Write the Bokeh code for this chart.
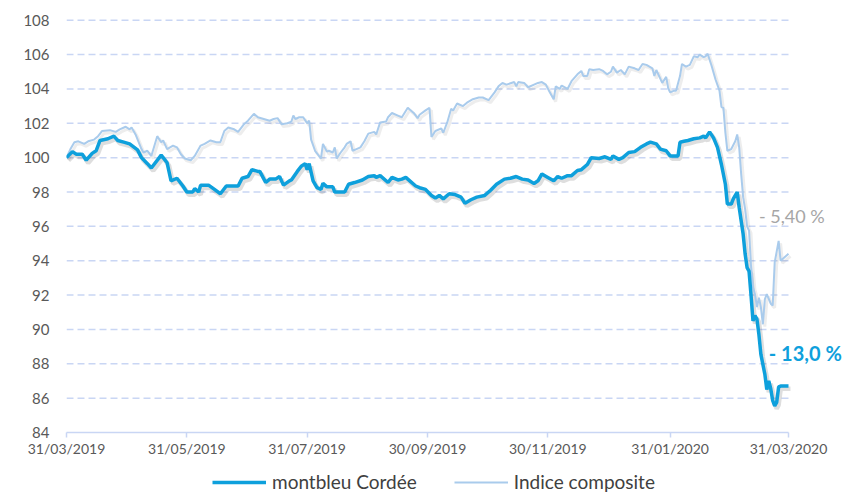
import pandas as pd
from bokeh.plotting import figure
from bokeh.layouts import column
from bokeh.models import (ColumnDataSource, Range1d, FixedTicker, DatetimeTickFormatter,
                          Legend, LegendItem, Label)
from bokeh.transform import dodge
from bokeh.embed import file_html
from bokeh.resources import INLINE

# ---------------- data ----------------
START = "2019-03-31"          # base date (value 100)
series_names = ["montbleu Cordée", "Indice composite"]

# day offsets from 31/03/2019 and base-100 values
fund_days = [0, 3, 5, 8, 10, 13, 15, 17, 21, 24, 26, 29, 32, 36, 38, 41, 43, 48, 51, 53, 56, 59, 61, 64,
             65, 67, 68, 72, 75, 78, 81, 87, 89, 92, 94, 97, 98, 101, 103, 106, 108, 110, 113, 114, 117,
             119, 121, 122, 123, 125, 127, 129, 130, 132, 135, 136, 141, 143, 146, 150, 153, 156, 157,
             159, 163, 165, 168, 170, 172, 174, 177, 179, 182, 185, 187, 189, 191, 194, 197, 200, 202,
             205, 208, 212, 215, 218, 222, 225, 228, 231, 234, 237, 239, 241, 244, 247, 249, 251, 254,
             256, 259, 261, 264, 266, 270, 273, 276, 277, 280, 282, 285, 288, 291, 294, 296, 299, 301,
             304, 306, 310, 311, 313, 315, 318, 321, 323, 324, 326, 328, 330, 332, 334, 335, 337, 338,
             340, 341, 343, 344, 345, 346, 347, 348, 349, 350, 351, 352, 354, 355, 356, 357, 358, 359,
             360, 361, 362, 366]
fund_values = [100.0, 100.35, 100.2, 100.2, 99.85, 100.25, 100.4, 101.0, 101.1, 101.25, 101.0, 100.9,
               100.8, 100.45, 100.0, 99.65, 99.4, 100.15, 99.7, 98.65, 98.8, 98.35, 98.0, 98.0,
               98.2, 98.0, 98.4, 98.4, 98.15, 97.9, 98.35, 98.35, 98.8, 98.9, 99.3, 99.2, 99.2, 98.55,
               98.75, 98.75, 98.9, 98.4, 98.65, 98.7, 99.2,
               99.5, 99.65, 99.3, 99.65, 98.65, 98.25, 98.15, 98.5, 98.3, 98.3, 98.0, 98.0, 98.45,
               98.55, 98.7, 98.9, 98.95, 98.85,
               98.95, 98.55, 98.85, 98.7, 98.75, 98.85, 98.65, 98.35, 98.25, 98.15, 97.8, 97.65, 97.8,
               97.6, 97.9, 97.85, 97.7, 97.35,
               97.55, 97.7, 97.8, 98.1, 98.45, 98.75, 98.8, 98.9, 98.75, 98.7, 98.5, 98.65, 99.05,
               98.85, 98.65, 98.9, 98.8, 98.95,
               98.95, 99.25, 99.3, 99.6, 100.0, 99.95, 100.05, 99.9, 100.1, 99.9, 100.0, 100.3, 100.35,
               100.6, 100.8, 100.9, 100.8, 100.5,
               100.4, 100.1, 100.1, 100.9, 100.95, 101.0, 101.1, 101.15, 101.25, 101.15, 101.5, 101.15,
               100.6, 99.6, 98.45, 97.3, 97.3, 97.6,
               98.0, 97.1, 95.55, 94.4, 93.6, 93.4, 92.0, 90.5, 90.8, 90.6, 89.7, 88.55, 87.4, 86.5,
               87.0, 86.55, 85.85, 85.55,
               85.75, 86.65, 86.7, 86.7]

index_days = [0, 2, 4, 6, 9, 11, 14, 16, 18, 22, 25, 27, 30, 32, 33, 35, 38, 39, 41, 43, 46, 48, 49, 51,
              54, 56, 58, 60, 63, 65, 66, 68, 70, 73, 76, 78, 80, 82, 85, 87, 90, 92, 95, 97, 100, 103,
              105, 107, 109, 112, 114, 115, 116, 118, 120, 122, 123, 124, 126, 129, 130, 132, 133, 135,
              136, 137, 139, 141, 142, 144, 145, 147, 149, 151, 153, 156, 157, 159, 162, 163, 165, 168,
              170, 173, 176, 178, 179, 182, 184, 185, 187, 190, 191, 193, 195, 196, 198, 201, 203, 206,
              209, 211, 214, 217, 219, 221, 223, 227, 228, 229, 232, 234, 237, 239, 241, 243, 245, 247,
              248, 250, 251, 254, 256, 259, 261, 262, 264, 265, 267, 270, 272, 274, 276, 277, 279, 281,
              283, 285, 288, 290, 292, 294, 297, 298, 299, 301, 302, 304, 305, 306, 308, 309, 311, 312,
              314, 316, 318, 320, 321, 323, 324, 325, 327, 329, 331, 332, 333, 334, 335, 337, 339, 340,
              341, 342, 343, 344, 345, 346, 347, 348, 349, 350, 351, 352, 353, 354, 355, 357, 358, 359,
              361, 362, 364, 366]
index_values = [100.0, 100.5, 100.9, 100.95, 100.8, 100.95, 101.05, 101.25, 101.55, 101.6, 101.5, 101.65,
                101.8, 101.65, 101.75, 101.35, 100.5, 100.3, 100.4, 100.1, 101.25, 100.9, 101.0, 100.5,
                100.7, 100.6, 100.2, 99.95, 99.85, 100.1, 100.3, 100.7, 100.8, 101.0, 100.9, 100.9,
                101.55, 101.75, 101.65, 101.5, 101.95, 102.15, 102.55, 102.35, 102.25, 102.15,
                102.25, 102.3, 101.95, 102.0, 102.1, 102.45, 102.25, 102.35, 102.35, 102.0, 102.15,
                101.05, 100.4, 99.95, 100.8, 100.35, 100.4, 100.3,
                100.6, 99.95, 100.3, 100.6, 100.8, 100.95, 100.4, 100.5, 100.6, 100.95, 101.4, 101.5,
                101.35, 102.05, 102.1, 102.35, 102.6, 102.45,
                102.35, 102.9, 102.6, 102.3, 102.5, 102.75, 102.9, 101.2, 101.55, 101.7, 101.45, 102.05,
                102.85, 102.75, 103.15, 103.0, 103.2, 103.4,
                103.5, 103.5, 103.35, 103.8, 104.15, 104.35, 104.25, 104.4, 104.15, 104.4, 104.35,
                104.1, 104.25, 104.35, 104.4, 104.25, 103.8, 103.4,
                104.15, 104.0, 104.2, 104.0, 104.45, 104.85, 105.05, 104.75, 104.75, 105.15, 105.1,
                105.15, 105.05, 104.85, 105.0, 105.3, 104.95, 105.1,
                104.85, 105.3, 105.2, 105.1, 105.45, 105.4, 105.2, 104.75, 105.1, 104.6, 104.35, 104.7,
                104.05, 103.8, 103.9, 103.9, 104.75, 105.45,
                105.3, 105.4, 105.9, 105.85, 106.0, 105.85, 105.9, 106.05, 105.35, 104.55, 103.9,
                102.95, 102.9, 101.45, 100.4, 100.5, 100.95, 101.35,
                100.6, 99.05, 97.7, 97.0, 96.0, 95.75, 93.7, 92.45, 92.05, 91.3, 91.85, 91.3, 90.3,
                91.75, 92.05, 91.5, 91.4, 93.9,
                95.15, 94.0, 94.2, 94.4]

tick_labels = ["31/03/2019", "31/05/2019", "31/07/2019", "30/09/2019",
               "30/11/2019", "31/01/2020", "31/03/2020"]
y_ticks = [84, 86, 88, 90, 92, 94, 96, 98, 100, 102, 104, 106, 108]
perf_fund = "- 13,0 %"
perf_index = "- 5,40 %"

# ---------------- build ----------------
base = pd.Timestamp(START)
fund_src = ColumnDataSource(dict(date=base + pd.to_timedelta(fund_days, unit="D"), v=fund_values))
index_src = ColumnDataSource(dict(date=base + pd.to_timedelta(index_days, unit="D"), v=index_values))
tick_dates = [pd.Timestamp(pd.to_datetime(t, dayfirst=True)) for t in tick_labels]
x_start, x_end = tick_dates[0], tick_dates[-1]

BLUE = "#0ea0dc"
LIGHT = "#a9cbec"
GRID = "#c9d6f4"

W, H_MAIN, H_LEG = 843, 466, 28
LEFT = 66
PLOT_W = 722                      # pixel width of the 31/03/2019 -> 31/03/2020 span
span_days = (x_end - x_start).days
# frame extends to the right edge so the end-of-period labels have room
view_end = x_start + pd.Timedelta(days=span_days * (W - LEFT) / PLOT_W)

p = figure(width=W, height=H_MAIN, x_axis_type="datetime", output_backend="svg",
           toolbar_location=None,
           x_range=Range1d(x_start, view_end),
           y_range=Range1d(y_ticks[0], y_ticks[-1] + 0.1),
           min_border_left=LEFT, min_border_right=0, min_border_top=18, min_border_bottom=34)
p.outline_line_color = None
p.background_fill_color = "white"
p.border_fill_color = "white"

# dashed horizontal gridlines, limited to the dated period
grid_y = y_ticks[1:]
grid_src = ColumnDataSource(dict(y=grid_y, x0=[x_start] * len(grid_y), x1=[x_end] * len(grid_y)))
p.segment("x0", "y", "x1", "y", source=grid_src, line_color=GRID, line_width=1.5, line_dash="7 4")

DAY_MS = 86400000
# soft drop shadows
p.line(dodge("date", 1.0 * DAY_MS, range=p.x_range), dodge("v", -0.14, range=p.y_range),
       source=index_src, line_color="#000000", line_alpha=0.07, line_width=3)
p.line(dodge("date", 1.0 * DAY_MS, range=p.x_range), dodge("v", -0.16, range=p.y_range),
       source=fund_src, line_color="#000000", line_alpha=0.13, line_width=4.5)

p.line("date", "v", source=index_src, line_color=LIGHT, line_width=2)
p.line("date", "v", source=fund_src, line_color=BLUE, line_width=3.5)

# axes
xa = p.xaxis[0]
xa.bounds = (x_start, x_end)
xa.ticker = FixedTicker(ticks=[t.value / 1e6 for t in tick_dates])
fmt = "%d/%m/%Y"
xa.formatter = DatetimeTickFormatter(days=fmt, months=fmt, years=fmt, hours=fmt, minutes=fmt,
                                     seconds=fmt, milliseconds=fmt, microseconds=fmt, minsec=fmt,
                                     hourmin=fmt)
xa.axis_line_color = GRID
xa.axis_line_width = 1.5
xa.major_tick_line_color = GRID
xa.major_tick_line_width = 1.5
xa.major_tick_out = 5
xa.major_tick_in = 0
xa.minor_tick_line_color = None
xa.major_label_text_font = "Lato"
xa.major_label_text_font_size = "14px"
xa.major_label_text_color = "#595959"
xa.major_label_standoff = 2

ya = p.yaxis[0]
ya.ticker = FixedTicker(ticks=y_ticks)
ya.axis_line_color = None
ya.major_tick_line_color = None
ya.minor_tick_line_color = None
ya.major_tick_out = 0
ya.major_tick_in = 0
ya.major_label_standoff = 17
ya.major_label_text_font = "Lato"
ya.major_label_text_font_size = "15px"
ya.major_label_text_color = "#595959"

p.xgrid.visible = False
p.ygrid.visible = False

# performance labels
p.add_layout(Label(x=x_start + pd.Timedelta(days=351), y=96.6, text=perf_index, text_font="Lato",
                   text_font_size="18px", text_color="#a6a6a6", text_baseline="middle",
                   text_align="left"))
p.add_layout(Label(x=x_start + pd.Timedelta(days=356), y=88.65, text=perf_fund, text_font="Lato",
                   text_font_size="20px", text_font_style="bold", text_color=BLUE,
                   text_baseline="middle", text_align="left"))

# ---------------- legend strip ----------------
lg = figure(width=W, height=H_LEG, output_backend="svg", toolbar_location=None,
            x_range=Range1d(0, 1), y_range=Range1d(0, 1),
            x_axis_location=None, y_axis_location=None,
            min_border_left=0, min_border_right=0, min_border_top=0, min_border_bottom=0)
lg.outline_line_color = None
lg.grid.visible = False
# proxy renderers (a single point outside the view) that only carry the legend styling
r_fund = lg.line("x", "y", source=ColumnDataSource(dict(x=[-5], y=[-5])),
                 line_color=BLUE, line_width=3.5)
r_index = lg.line("x", "y", source=ColumnDataSource(dict(x=[-5], y=[-5])),
                  line_color=LIGHT, line_width=2)
legend = Legend(items=[LegendItem(label=series_names[0], renderers=[r_fund]),
                       LegendItem(label=series_names[1], renderers=[r_index])],
                orientation="horizontal", location=(146, 1),
                label_text_font="Lato", label_text_font_size="19px", label_text_color="#404040",
                glyph_width=54, glyph_height=20, label_standoff=6, spacing=37,
                padding=0, margin=0, border_line_color=None, background_fill_alpha=0)
lg.add_layout(legend, "center")

layout = column(p, lg, spacing=0)
open("out.html", "w").write(file_html(layout, INLINE))
